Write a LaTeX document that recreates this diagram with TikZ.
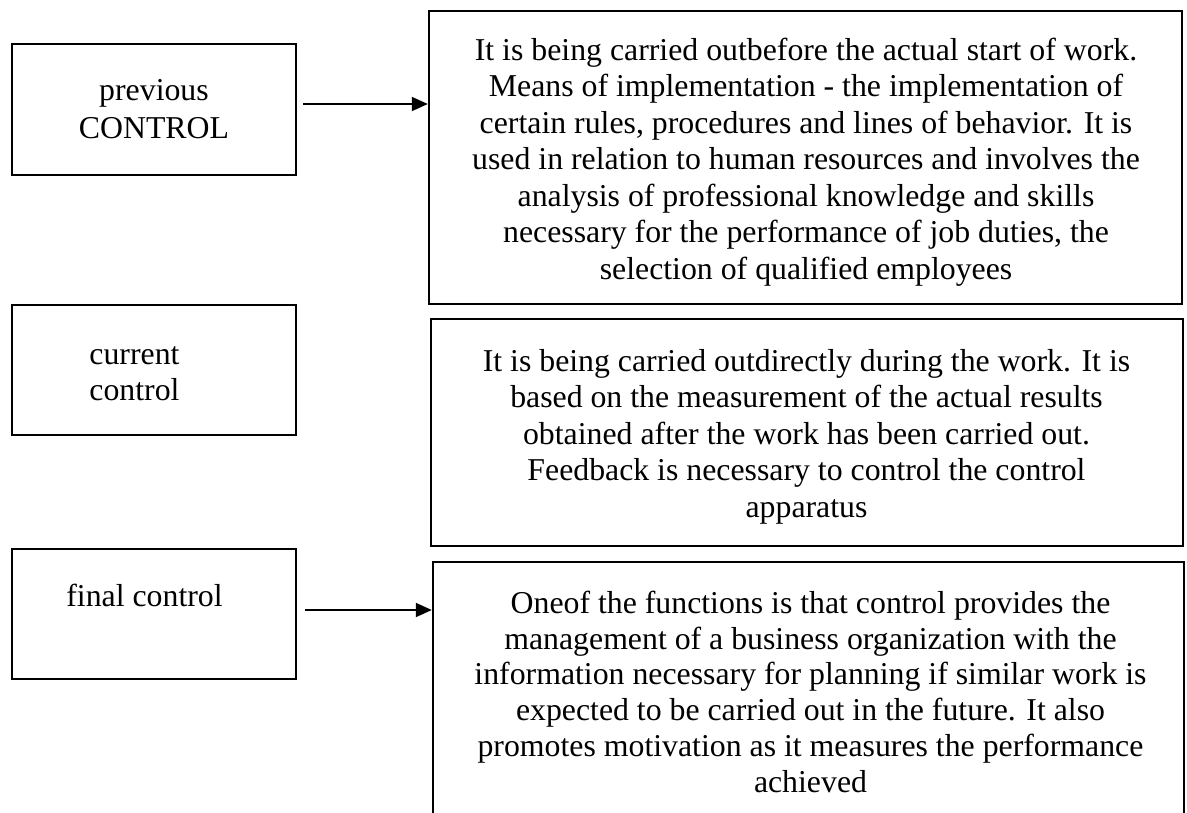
\documentclass[tikz,border=0pt]{standalone}
\usepackage{fontspec}
\setmainfont{Liberation Serif}
\usetikzlibrary{arrows.meta}
\begin{document}
\begin{tikzpicture}[x=1pt,y=-1pt,
  box/.style={draw=black, line width=2.4pt, inner sep=0pt, rectangle},
  txt/.style={inner sep=0pt, align=center, anchor=north,
              font=\fontsize{31.8}{#1}\selectfont},
  link/.style={draw=black, line width=1.8pt,
               -{Triangle[length=16pt,width=14pt]}}]
\useasboundingbox (0,0) rectangle (1187,812);
\clip (0,0) rectangle (1187,812);

% left column: kinds of control
\node[box, minimum width=284pt, minimum height=131pt] (L1) at (154,109.5) {};
\node[box, minimum width=284pt, minimum height=130pt] (L2) at (154,370) {};
\node[box, minimum width=284pt, minimum height=130pt] (L3) at (154,614) {};

% right column: descriptions
\node[box, minimum width=753pt, minimum height=293pt] (R1) at (805.5,157.5) {};
\node[box, minimum width=752pt, minimum height=227pt] (R2) at (807,432.5) {};
\node[box, minimum width=751pt, minimum height=268pt] (R3) at (808.5,696) {};

% labels
\node[txt=38] (t1) at (154,74.1) {\strut previous\\CONTROL};
\node[txt=36] (t2) at (134.5,338.8) {\strut current\\control};
\node[inner sep=0pt, anchor=base, font=\fontsize{31.8}{36}\selectfont] (t3)
  at (144.5,606) {final control};

\node[txt=36.5] (d1) at (806,34.45) {\strut It is being carried outbefore the actual start of work.\\
Means of implementation - the implementation of\\
certain rules, procedures and lines of behavior. It is\\
used in relation to human resources and involves the\\
analysis of professional knowledge and skills\\
necessary for the performance of job duties, the\\
selection of qualified employees};

\node[txt=36.5] (d2) at (806.5,345.45) {\strut It is being carried outdirectly during the work. It is\\
based on the measurement of the actual results\\
obtained after the work has been carried out.\\
Feedback is necessary to control the control\\
apparatus};

\node[txt=35.7] (d3) at (810.5,588.3) {\strut Oneof the functions is that control provides the\\
management of a business organization with the\\
information necessary for planning if similar work is\\
expected to be carried out in the future. It also\\
promotes motivation as it measures the performance\\
achieved};

% arrows
\coordinate (a1) at ([xshift=6pt,yshift=5.5pt]L1.east);
\coordinate (a3) at ([xshift=8pt,yshift=4pt]L3.east);
\draw[link] (a1) -- (a1 -| R1.west);
\draw[link] (a3) -- (a3 -| R3.west);
\end{tikzpicture}
\end{document}
